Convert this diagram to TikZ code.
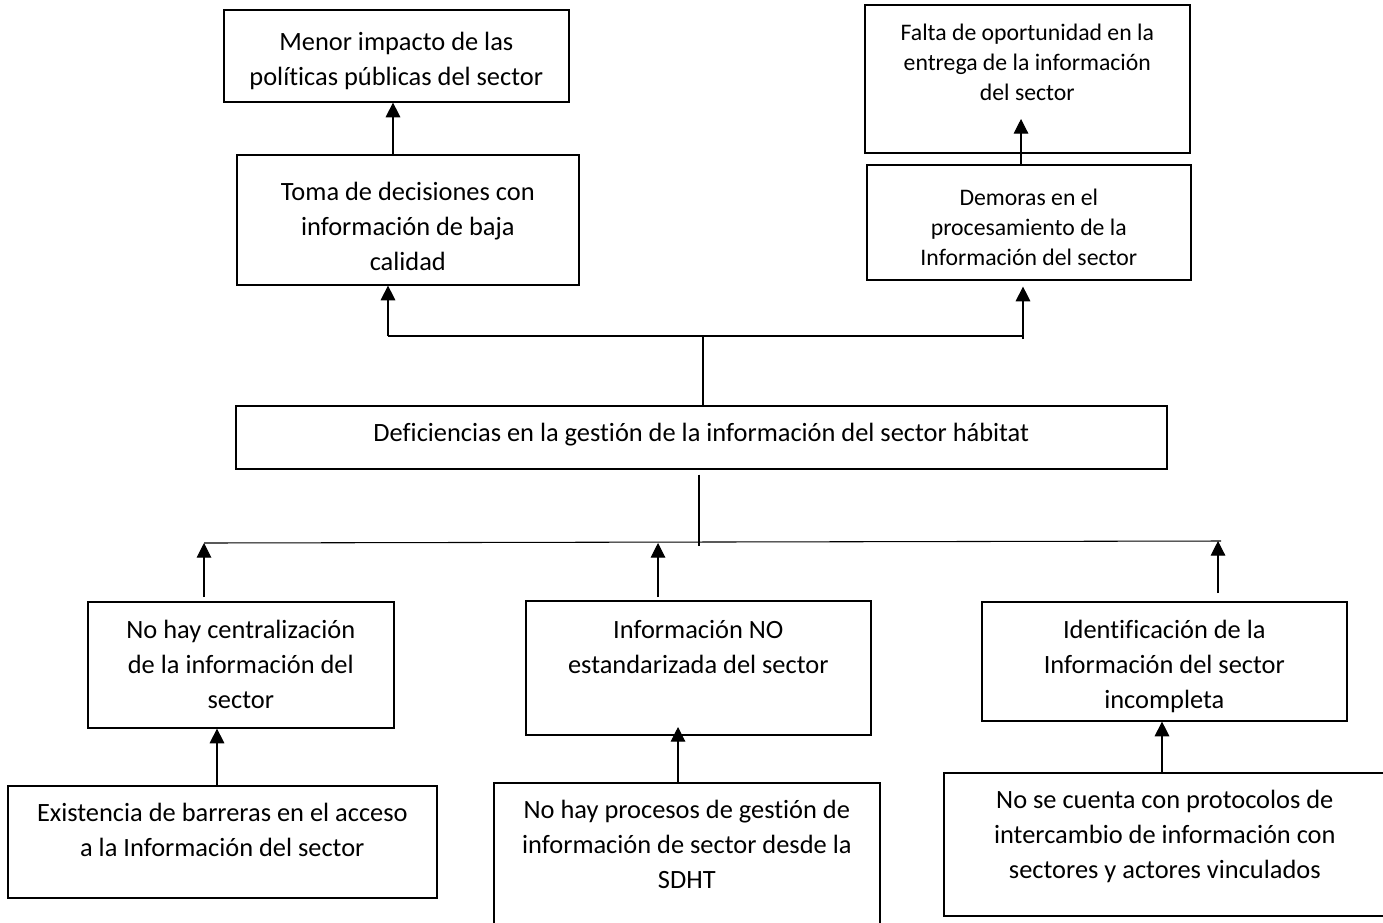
\documentclass[tikz,border=0pt]{standalone}
\usepackage{fontspec}
\setmainfont{Carlito}[Ligatures={NoCommon}]
\usetikzlibrary{arrows.meta}
\newcommand\bigtxt{\fontsize{19.8pt}{26.25pt}\selectfont}
\newcommand\smalltxt{\fontsize{17.8pt}{22.5pt}\selectfont}
\newcommand\bt[4]{\begin{minipage}[t][#2][t]{#1}\centering\rule{0pt}{#3}#4\end{minipage}}
\tikzset{
  box/.style={draw, line width=1.2pt, inner sep=0pt, anchor=north west},
  conn/.style={line width=0.8pt},
  arr/.style={line width=0.8pt, -{Triangle[width=11pt,length=11pt]}}
}
\begin{document}
\begin{tikzpicture}[x=0.75pt,y=-0.75pt]
\useasboundingbox (0,0) rectangle (1383,922);
\fill[white] (0,0) rectangle (1383,922);
\clip (0,0) rectangle (1383,922);
\bigtxt
\node[box] (A) at (223,9) {\bt{258.75pt}{69pt}{30.75pt}{Menor impacto de las\\políticas públicas del sector}};
\node[box] (B) at (236,154) {\bt{256.5pt}{97.5pt}{34.5pt}{Toma de decisiones con\\información de baja\\calidad}};
\node[box] (C) at (864,4) {\smalltxt\bt{243.75pt}{111pt}{26.6pt}{Falta de oportunidad en la\\entrega de la información\\del sector}};
\node[box] (D) at (866,164) {\smalltxt\bt{243pt}{86.25pt}{30.4pt}{Demoras en el\\procesamiento de la\\Información del sector}};
\node[box] (E) at (235,405) {\bt{698.25pt}{47.25pt}{27pt}{Deficiencias en la gestión de la información del sector hábitat}};
\node[box] (F) at (87,601) {\bt{229.5pt}{94.5pt}{27.5pt}{No hay centralización\\de la información del\\sector}};
\node[box] (G) at (525,600) {\bt{258.75pt}{100.5pt}{28pt}{Información NO\\estandarizada del sector}};
\node[box] (H) at (981,601) {\bt{273.75pt}{89.25pt}{27.5pt}{Identificación de la\\Información del sector\\incompleta}};
\node[box] (I) at (7,785) {\bt{321.75pt}{84pt}{27pt}{Existencia de barreras en el acceso\\a la Información del sector}};
\node[box] (J) at (493,782) {\bt{289.5pt}{111pt}{27pt}{No hay procesos de gestión de\\información de sector desde la\\SDHT}};
\node[box] (K) at (943,772) {\bt{331.5pt}{107.25pt}{27pt}{No se cuenta con protocolos de\\intercambio de información con\\sectores y actores vinculados}};
% upper connectors
\draw[arr] (B.north -| 393,0) -- (A.south -| 393,0);
\coordinate (ctip) at (1021,119);
\draw[arr] (D.north -| ctip) -- (ctip);
\coordinate (tl) at (388,336);
\coordinate (tr) at (1023,336);
\coordinate (tm) at (703,336);
\draw[conn] (tl) -- (tr);
\draw[arr] (tl) -- (tl |- B.south);
\draw[arr] (tr) ++(0,3) -- ([yshift=-4.5pt]tr |- D.south);
\draw[conn] (tm) -- (tm |- E.north);
% lower connectors
\coordinate (bm) at (699,546);
\coordinate (bl) at (204,543);
\coordinate (bc) at (658,543);
\coordinate (br) at (1218,541);
\draw[conn] (E.south -| bm) ++(0,5) -- (bm);
\draw[conn] (bl) -- (1221,541);
\draw[arr] (F.north -| bl) ++(0,-4) -- (bl);
\draw[arr] (G.north -| bc) ++(0,-3) -- (bc);
\draw[arr] (H.north -| br) ++(0,-8) -- (br);
\draw[arr] (I.north -| 217,0) -- (F.south -| 217,0);
\draw[arr] (J.north -| 678,0) -- (678,727);
\draw[arr] (K.north -| 1162,0) -- (H.south -| 1162,0);
\end{tikzpicture}
\end{document}
